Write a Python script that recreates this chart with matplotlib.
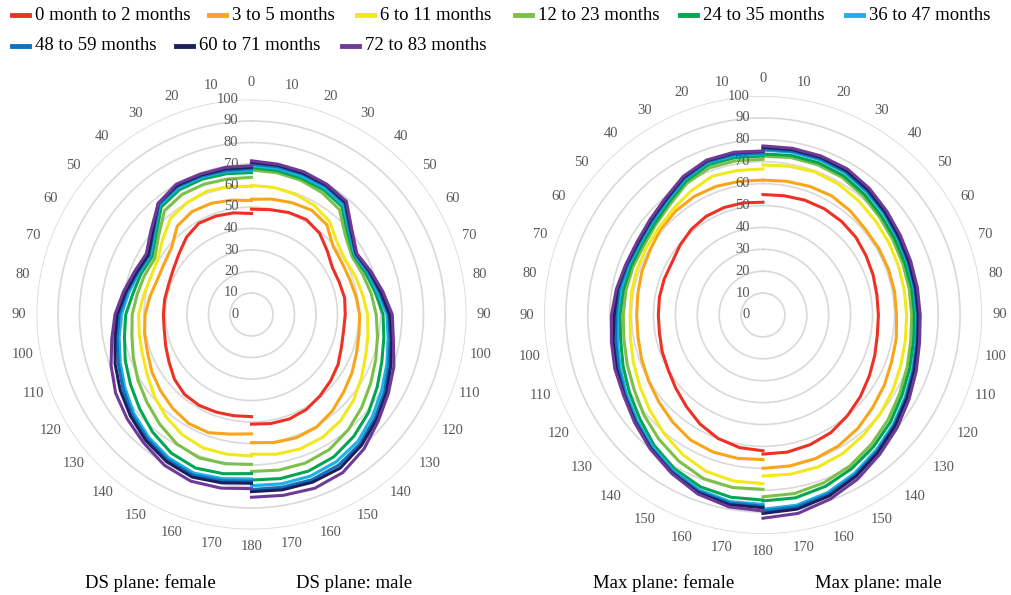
import matplotlib.pyplot as plt
import numpy as np
from matplotlib.lines import Line2D
from matplotlib.transforms import offset_copy

plt.rcParams['font.family'] = ['Liberation Serif', 'DejaVu Serif']

# age groups and their colours
groups = ["0 month to 2 months", "3 to 5 months", "6 to 11 months",
          "12 to 23 months", "24 to 35 months", "36 to 47 months",
          "48 to 59 months", "60 to 71 months", "72 to 83 months"]
colors = ['#EE3124', '#F9A51A', '#F2E81C', '#7CC04A', '#00A651',
          '#1CB0E6', '#0F72BA', '#1B1F5E', '#6F3A97']

# angle in degrees, 0 at the top, 180 at the bottom
angles = list(range(0, 190, 10))

# DS plane, one row per age group (0..180 deg)
ds_female = [
    [47, 48, 48.7, 49, 47, 44, 42, 41, 41, 41, 41.2, 42.5, 44.3, 46.8, 48.5, 48.8, 48.3, 47.8, 47.5],
    [53, 54, 55, 55.3, 53.7, 48.5, 47, 46.7, 48, 49.5, 50.5, 51.5, 53.5, 55.2, 57, 58.5, 58.5, 56.5, 55.5],
    [59.5, 60.5, 61, 60, 58.5, 54, 50.5, 50, 51, 52.5, 53, 54, 56, 59, 62, 64.5, 66, 66, 65.8],
    [63.8, 64, 64.5, 64.5, 63, 56.5, 52, 53, 54, 55.5, 56.5, 58.5, 61, 63.5, 66.5, 69.5, 71, 70.5, 69.7],
    [66, 66.5, 67, 67, 65.3, 58, 53.5, 54.8, 56, 58.5, 60, 62.5, 65, 68, 71.5, 74.5, 76, 75.2, 74],
    [67, 67.5, 68, 68, 66.5, 59, 54.5, 56, 58, 60.5, 62.5, 65, 68, 71.5, 74.5, 77, 78.5, 77.5, 76.5],
    [67.8, 68, 68.5, 68.8, 67, 59.5, 55, 56.5, 59, 61.5, 63.5, 66, 69, 72.5, 75.5, 78, 79.5, 78.5, 77.5],
    [68.5, 68.8, 69, 69.3, 67.5, 60, 55.5, 57, 59.5, 62.5, 64.5, 67.5, 70.5, 73.5, 76.5, 79, 80.5, 79.5, 78.5],
    [69.2, 69.5, 69.5, 70, 67.5, 61, 56.5, 58, 60.5, 63.5, 66, 69.5, 73, 75.5, 78, 81, 82.5, 82, 81],
]
ds_male = [
    [49, 49.5, 50.5, 51, 49.3, 46, 43.5, 43.5, 44, 43.6, 43.5, 44.5, 46.5, 48, 49.5, 51, 51.7, 51.5, 51],
    [53.6, 54.5, 55.3, 56, 54.5, 49.5, 48.5, 48.5, 49.3, 50.3, 50.8, 52, 54, 56, 58.5, 60.5, 61, 60.5, 59.6],
    [60, 60, 59.5, 58.5, 56.5, 52, 50.5, 51.5, 52.5, 54, 55, 56.5, 59, 62, 64.5, 66, 66.5, 66, 65],
    [67.2, 67, 66.5, 65.5, 63.7, 57, 54, 55, 56.5, 58, 59.5, 61.5, 64, 67, 70, 72.5, 73.5, 73.5, 73],
    [68.3, 68, 67.5, 67, 65.5, 58.5, 55, 56.5, 58.5, 61.2, 62.5, 64.5, 67.5, 71, 74, 76.5, 77.5, 77.5, 77],
    [69.2, 69, 68.5, 68, 66.5, 59.5, 55.5, 57.5, 59.5, 63, 64.5, 67, 70, 73.5, 77, 79, 80, 80, 79.6],
    [70, 69.8, 69.5, 69, 67.5, 60, 56, 58, 60.5, 63.8, 65.5, 68, 71.5, 75, 78.5, 81, 81.8, 81.6, 81.4],
    [70.8, 70.5, 70, 69.5, 68, 60.5, 56.3, 58.5, 61, 64.3, 66.2, 69, 72.5, 76, 79.5, 82.5, 83, 82.8, 82.4],
    [71.5, 71, 70.7, 70, 68.7, 61, 56.6, 59, 62, 65.5, 67, 70.5, 73.5, 77, 81.5, 84.9, 86, 85.4, 85],
]

# Max plane
max_female = [
    [51.5, 52, 52.2, 52, 51, 49.5, 48, 48, 48, 47.8, 48, 49, 50, 52, 54.5, 57.5, 60, 61.5, 62],
    [61.6, 62, 62.5, 62.6, 62, 61, 59.5, 58.8, 58, 57.7, 58, 59, 60.3, 62, 64, 66, 66.6, 66.5, 66],
    [66.7, 67, 67.5, 65.5, 63.5, 62, 61.5, 61.2, 61, 60.7, 61.5, 63, 65, 67.5, 70.5, 73.5, 76, 77, 77],
    [71.1, 71.5, 71.5, 69.5, 66, 64, 63, 63.3, 63.6, 63.8, 64.5, 66, 68, 71, 74, 77, 79.5, 80, 79.6],
    [72.6, 73, 73, 70.5, 67, 64.8, 64, 64.3, 64.8, 65.3, 66, 68, 70.5, 73.5, 77.5, 81, 83.5, 84.5, 84.5],
    [73.5, 74, 74, 71.5, 68, 66, 65, 65.5, 66, 66.5, 67.5, 69.5, 72, 75, 78.5, 82, 85, 86.5, 86.5],
    [74, 74.5, 74.5, 72, 68.5, 66.5, 65.5, 66, 66.8, 67.1, 68.3, 70.3, 72.7, 75.7, 79.3, 82.7, 85.7, 87.2, 87.3],
    [74.7, 75.2, 75, 72.5, 69, 67, 66, 66.5, 67.5, 68, 69.5, 71.3, 73.2, 76.2, 79.7, 83.2, 86.4, 88, 88],
    [74.9, 75.5, 75.3, 73, 69.5, 67.5, 66.5, 66.8, 68, 69.2, 70.3, 72, 73.5, 76.5, 80, 83.5, 87, 89, 89.5],
]
max_male = [
    [55, 55.3, 55.8, 56, 55.8, 55.3, 54.3, 53.5, 52.8, 52.7, 53, 54.3, 56, 58, 60, 62, 63, 63.6, 63.5],
    [61.6, 62, 62.5, 62.8, 62, 61, 61, 61, 61, 61, 61.8, 62.5, 64, 65.5, 67.5, 69, 69.8, 70, 70],
    [68.5, 69, 69.5, 69, 68, 67, 66.3, 65.8, 65.5, 65.6, 66, 67, 68.5, 70, 71.5, 73, 73.8, 73.8, 73.5],
    [72.5, 73, 73, 72.5, 71, 69.5, 68.5, 68, 67.8, 67.9, 68.5, 70, 72, 74.5, 77, 79.5, 81.5, 82.8, 83],
    [73.5, 74, 74, 73.5, 72, 70.5, 69.5, 69, 69, 69.1, 69.8, 71.3, 73.3, 76, 78.5, 81, 83.3, 84.8, 84.9],
    [75.3, 75.5, 75.5, 75, 73.5, 72, 70.8, 70.2, 70, 70.2, 71, 72.7, 75, 77.7, 80.5, 83.5, 86.3, 88.2, 88.7],
    [75.8, 76, 76, 75.5, 74, 72.5, 71.2, 70.6, 70.4, 70.6, 71.4, 73.2, 75.5, 78.3, 81.2, 84.3, 87.2, 89, 89.5],
    [76.6, 76.7, 76.7, 76.2, 74.7, 73, 71.7, 71, 70.8, 71, 71.8, 73.6, 76, 78.8, 81.8, 85, 88, 90, 90.6],
    [77.2, 77.3, 77.3, 77, 75.5, 73.8, 72.5, 71.8, 71.6, 71.8, 72.6, 74.5, 77, 80, 83, 86.5, 89.5, 92, 92.8],
]

W, H = 1011, 595
fig = plt.figure(figsize=(W / 100, H / 100), dpi=100)
grey = '#595959'


def radar(cx, cy, R, female, male):
    ax = fig.add_axes([(cx - R) / W, (H - cy - R) / H, 2 * R / W, 2 * R / H],
                      projection='polar')
    ax.set_theta_zero_location('N')
    ax.set_theta_direction(-1)
    ax.set_ylim(0, 100)
    ax.set_yticks(range(10, 101, 10))
    ax.set_yticklabels([])
    ax.set_xticks([])
    ax.spines['polar'].set_visible(False)
    ax.grid(axis='y', color='#D9D9D9', lw=1.2)
    ax.set_facecolor('none')

    # value labels along the top axis
    tr = offset_copy(ax.transData, fig=fig, x=-13, y=0, units='dots')
    for r in range(0, 101, 10):
        ax.text(0, r, str(r), transform=tr, ha='right', va='center',
                fontsize=10.5, color=grey)

    # angle labels: male on the right, female mirrored on the left
    for i in range(36):
        lab = i * 10 if i <= 18 else (36 - i) * 10
        ax.text(np.radians(i * 10), 108, str(lab), ha='center', va='center',
                fontsize=10.5, color=grey, clip_on=False)

    th = np.radians(angles)
    for k in range(len(groups)):
        ax.plot(-th, female[k], color=colors[k], lw=2.2, clip_on=False)
        ax.plot(th, male[k], color=colors[k], lw=2.2, clip_on=False)
    return ax


radar(251.5, 314.5, 215, ds_female, ds_male)
radar(763, 315, 219, max_female, max_male)

# captions under each half
fig.text(150 / W, 1 - 583 / H, "DS plane: female", ha='center', va='center', fontsize=13.5)
fig.text(354 / W, 1 - 583 / H, "DS plane: male", ha='center', va='center', fontsize=13.5)
fig.text(664 / W, 1 - 583 / H, "Max plane: female", ha='center', va='center', fontsize=13.5)
fig.text(878 / W, 1 - 583 / H, "Max plane: male", ha='center', va='center', fontsize=13.5)

# legend laid out like the original (two rows)
leg_x = [12, 209, 357, 515, 680, 846, 12, 176, 342]
leg_y = [15, 15, 15, 15, 15, 15, 46, 46, 46]
for k in range(len(groups)):
    x0, y0 = leg_x[k], leg_y[k]
    fig.add_artist(Line2D([x0 / W, (x0 + 17) / W], [1 - y0 / H, 1 - y0 / H],
                          transform=fig.transFigure, color=colors[k], lw=3.5))
    fig.text((x0 + 23) / W, 1 - y0 / H, groups[k], ha='left', va='center',
             fontsize=13.5)

fig.savefig('out.png', dpi=100, facecolor='white')
